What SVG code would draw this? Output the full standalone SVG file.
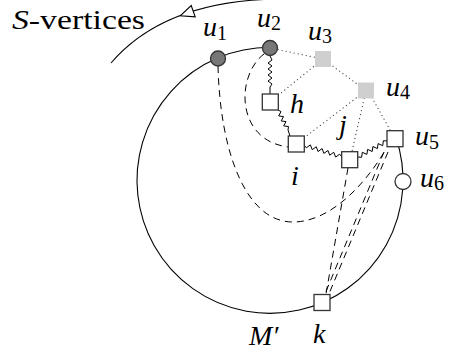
<svg xmlns="http://www.w3.org/2000/svg" width="453" height="354" viewBox="0 0 453 354">
<style>
.t{font-family:'Liberation Serif','DejaVu Serif',serif;font-size:28px;fill:#000}
.it{font-style:italic}
.sub{font-size:20px;font-style:normal}
.solid{fill:none;stroke:#000;stroke-width:1.1}
.dash{fill:none;stroke:#000;stroke-width:1;stroke-dasharray:7 5}
.dot{fill:none;stroke:#444;stroke-width:1.2;stroke-dasharray:0.1 4;stroke-linecap:round}
.snake{fill:none;stroke:#000;stroke-width:1;stroke-linejoin:round}
.sq{fill:#fff;stroke:#333;stroke-width:1.3}
.gsq{fill:#cfcfcf;stroke:none}
.dk{fill:#777;stroke:#333;stroke-width:1.3}
.wc{fill:#fff;stroke:#333;stroke-width:1.3}
</style>

<g id="s-vertices">
<path class="solid" d="M111,63 Q165,0 280,-1"/>
<polygon points="180.5,15.7 191.2,5.5 195.2,16.9" fill="#fff" stroke="#000" stroke-width="1.1" stroke-linejoin="miter"/>
<text class="t" x="12" y="28.5" textLength="133" lengthAdjust="spacingAndGlyphs"><tspan class="it">S</tspan>-vertices</text>
</g>

<g id="connectors">
<path id="circle-Mprime" class="solid" d="M270,47.3 A133,133 0 1 0 395.7,136.8"/>
<line class="dot" x1="270" y1="48" x2="323" y2="59"/>
<line class="dot" x1="323" y1="59" x2="270" y2="102"/>
<line class="dot" x1="323" y1="59" x2="366" y2="90.5"/>
<line class="dot" x1="366" y1="90.5" x2="296" y2="144"/>
<line class="dot" x1="366" y1="90.5" x2="350" y2="160"/>
<line class="dot" x1="368" y1="90.5" x2="395" y2="138.7"/>
<path class="dash" d="M218,66 C220,150 245,222 293,222 C330,222 365,185 386,149"/>
<path class="dash" d="M264,54 C236,75 235,140 288,147"/>
<line class="dash" x1="348" y1="168" x2="326" y2="294"/>
<line class="dash" x1="384" y1="152" x2="324.5" y2="295"/>
<line class="dash" x1="388" y1="152" x2="328.5" y2="295"/>
<polyline class="snake" points="270,56 272,60 268,63 272,66 268,69 272,72 268,75 272,78 268,81 272,84 270,87 270,94"/>
<polyline class="snake" points="278,110 281,111.6 278.7,115.9 283.5,116.6 281.2,120.9 286,121.6 283.7,125.9 288.5,126.6 288,130 290,136"/>
<polyline class="snake" points="304,145 306.3,147.8 310.4,144.9 312.2,149.7 316.3,146.8 318,151.5 322.1,148.6 323.9,153.4 328,150.5 329.7,155.2 333.8,152.3 335.6,157.1 339.7,154.2 342,157"/>
<polyline class="snake" points="358,157 361.6,157.3 362.3,152.3 366.9,154.4 367.6,149.4 372.2,151.5 372.9,146.5 377.4,148.6 378.1,143.6 382.7,145.7 383.4,140.7 387,141"/>
</g>

<g id="u1"><circle class="dk" cx="218" cy="58.5" r="7.5"/><text class="t it" x="203" y="36">u<tspan class="sub" dy="3.5">1</tspan></text></g>
<g id="u2"><circle class="dk" cx="270" cy="48" r="7.5"/><text class="t it" x="257" y="26.5">u<tspan class="sub" dy="3">2</tspan></text></g>
<g id="u3"><rect class="gsq" x="315" y="51" width="16" height="16"/><text class="t it" x="308" y="39.5">u<tspan class="sub" dy="3">3</tspan></text></g>
<g id="u4"><rect class="gsq" x="358" y="82.5" width="16" height="16"/><text class="t it" x="386" y="95.5">u<tspan class="sub" dy="3.5">4</tspan></text></g>
<g id="h"><rect class="sq" x="262.3" y="94" width="16" height="16"/><text class="t it" x="290" y="113">h</text></g>
<g id="i"><rect class="sq" x="288.3" y="136" width="16" height="16"/><text class="t it" x="291" y="185">i</text></g>
<g id="j"><rect class="sq" x="341.7" y="151.7" width="16" height="16"/><text class="t it" x="339" y="134">j</text></g>
<g id="u5"><rect class="sq" x="387" y="130.7" width="16" height="16"/><text class="t it" x="415" y="145">u<tspan class="sub" dy="3.5">5</tspan></text></g>
<g id="u6"><circle class="wc" cx="403" cy="181.5" r="8"/><text class="t it" x="420" y="186.5">u<tspan class="sub" dy="3.5">6</tspan></text></g>
<g id="k"><rect class="sq" x="314" y="294.5" width="16" height="16"/><text class="t it" x="313" y="343">k</text></g>
<g id="Mprime-label"><text class="t it" x="249" y="345">M′</text></g>
</svg>
